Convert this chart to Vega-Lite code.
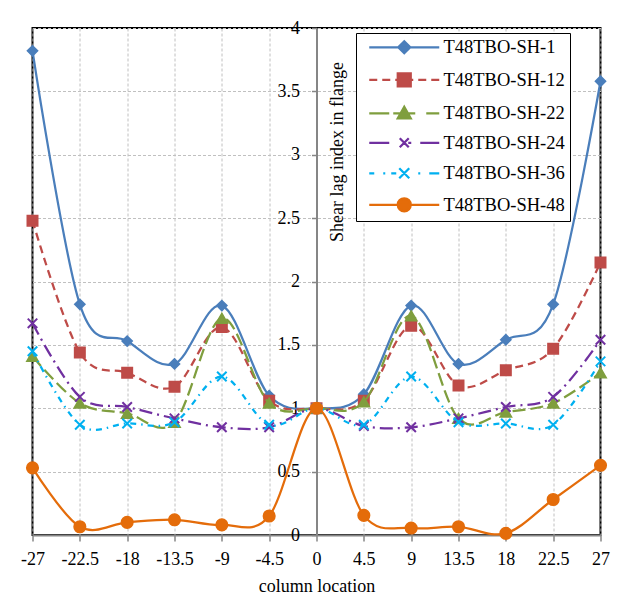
{
  "$schema": "https://vega.github.io/schema/vega-lite/v6.json",
  "width": 568,
  "height": 507,
  "autosize": {"type": "none"},
  "padding": {"left": 32.5, "top": 28, "right": 21.5, "bottom": 81},
  "background": "white",
  "config": {
    "font": "Liberation Serif",
    "view": {"stroke": "black", "strokeWidth": 2}
  },
  "data": {
    "values": [
      {"x": -27, "y": 3.82, "s": "T48TBO-SH-1"}, {"x": -22.5, "y": 1.82, "s": "T48TBO-SH-1"}, {"x": -18, "y": 1.53, "s": "T48TBO-SH-1"}, {"x": -13.5, "y": 1.35, "s": "T48TBO-SH-1"}, {"x": -9, "y": 1.81, "s": "T48TBO-SH-1"}, {"x": -4.5, "y": 1.1, "s": "T48TBO-SH-1"}, {"x": 0, "y": 1.0, "s": "T48TBO-SH-1"}, {"x": 4.5, "y": 1.11, "s": "T48TBO-SH-1"}, {"x": 9, "y": 1.81, "s": "T48TBO-SH-1"}, {"x": 13.5, "y": 1.35, "s": "T48TBO-SH-1"}, {"x": 18, "y": 1.54, "s": "T48TBO-SH-1"}, {"x": 22.5, "y": 1.82, "s": "T48TBO-SH-1"}, {"x": 27, "y": 3.58, "s": "T48TBO-SH-1"},
      {"x": -27, "y": 2.48, "s": "T48TBO-SH-12"}, {"x": -22.5, "y": 1.44, "s": "T48TBO-SH-12"}, {"x": -18, "y": 1.28, "s": "T48TBO-SH-12"}, {"x": -13.5, "y": 1.17, "s": "T48TBO-SH-12"}, {"x": -9, "y": 1.64, "s": "T48TBO-SH-12"}, {"x": -4.5, "y": 1.06, "s": "T48TBO-SH-12"}, {"x": 0, "y": 1.0, "s": "T48TBO-SH-12"}, {"x": 4.5, "y": 1.06, "s": "T48TBO-SH-12"}, {"x": 9, "y": 1.65, "s": "T48TBO-SH-12"}, {"x": 13.5, "y": 1.18, "s": "T48TBO-SH-12"}, {"x": 18, "y": 1.3, "s": "T48TBO-SH-12"}, {"x": 22.5, "y": 1.47, "s": "T48TBO-SH-12"}, {"x": 27, "y": 2.15, "s": "T48TBO-SH-12"},
      {"x": -27, "y": 1.41, "s": "T48TBO-SH-22"}, {"x": -22.5, "y": 1.04, "s": "T48TBO-SH-22"}, {"x": -18, "y": 0.96, "s": "T48TBO-SH-22"}, {"x": -13.5, "y": 0.89, "s": "T48TBO-SH-22"}, {"x": -9, "y": 1.71, "s": "T48TBO-SH-22"}, {"x": -4.5, "y": 1.04, "s": "T48TBO-SH-22"}, {"x": 0, "y": 1.0, "s": "T48TBO-SH-22"}, {"x": 4.5, "y": 1.05, "s": "T48TBO-SH-22"}, {"x": 9, "y": 1.73, "s": "T48TBO-SH-22"}, {"x": 13.5, "y": 0.92, "s": "T48TBO-SH-22"}, {"x": 18, "y": 0.97, "s": "T48TBO-SH-22"}, {"x": 22.5, "y": 1.04, "s": "T48TBO-SH-22"}, {"x": 27, "y": 1.28, "s": "T48TBO-SH-22"},
      {"x": -27, "y": 1.67, "s": "T48TBO-SH-24"}, {"x": -22.5, "y": 1.09, "s": "T48TBO-SH-24"}, {"x": -18, "y": 1.01, "s": "T48TBO-SH-24"}, {"x": -13.5, "y": 0.92, "s": "T48TBO-SH-24"}, {"x": -9, "y": 0.85, "s": "T48TBO-SH-24"}, {"x": -4.5, "y": 0.85, "s": "T48TBO-SH-24"}, {"x": 0, "y": 1.0, "s": "T48TBO-SH-24"}, {"x": 4.5, "y": 0.86, "s": "T48TBO-SH-24"}, {"x": 9, "y": 0.85, "s": "T48TBO-SH-24"}, {"x": 13.5, "y": 0.92, "s": "T48TBO-SH-24"}, {"x": 18, "y": 1.01, "s": "T48TBO-SH-24"}, {"x": 22.5, "y": 1.09, "s": "T48TBO-SH-24"}, {"x": 27, "y": 1.54, "s": "T48TBO-SH-24"},
      {"x": -27, "y": 1.45, "s": "T48TBO-SH-36"}, {"x": -22.5, "y": 0.87, "s": "T48TBO-SH-36"}, {"x": -18, "y": 0.88, "s": "T48TBO-SH-36"}, {"x": -13.5, "y": 0.89, "s": "T48TBO-SH-36"}, {"x": -9, "y": 1.25, "s": "T48TBO-SH-36"}, {"x": -4.5, "y": 0.87, "s": "T48TBO-SH-36"}, {"x": 0, "y": 1.0, "s": "T48TBO-SH-36"}, {"x": 4.5, "y": 0.87, "s": "T48TBO-SH-36"}, {"x": 9, "y": 1.25, "s": "T48TBO-SH-36"}, {"x": 13.5, "y": 0.89, "s": "T48TBO-SH-36"}, {"x": 18, "y": 0.88, "s": "T48TBO-SH-36"}, {"x": 22.5, "y": 0.87, "s": "T48TBO-SH-36"}, {"x": 27, "y": 1.37, "s": "T48TBO-SH-36"},
      {"x": -27, "y": 0.53, "s": "T48TBO-SH-48"}, {"x": -22.5, "y": 0.065, "s": "T48TBO-SH-48"}, {"x": -18, "y": 0.1, "s": "T48TBO-SH-48"}, {"x": -13.5, "y": 0.12, "s": "T48TBO-SH-48"}, {"x": -9, "y": 0.08, "s": "T48TBO-SH-48"}, {"x": -4.5, "y": 0.15, "s": "T48TBO-SH-48"}, {"x": 0, "y": 1.0, "s": "T48TBO-SH-48"}, {"x": 4.5, "y": 0.155, "s": "T48TBO-SH-48"}, {"x": 9, "y": 0.055, "s": "T48TBO-SH-48"}, {"x": 13.5, "y": 0.065, "s": "T48TBO-SH-48"}, {"x": 18, "y": 0.013, "s": "T48TBO-SH-48"}, {"x": 22.5, "y": 0.28, "s": "T48TBO-SH-48"}, {"x": 27, "y": 0.55, "s": "T48TBO-SH-48"}
    ]
  },
  "encoding": {
    "x": {
      "field": "x", "type": "quantitative",
      "scale": {"domain": [-27, 27], "nice": false, "zero": false},
      "axis": {
        "values": [-27, -22.5, -18, -13.5, -9, -4.5, 0, 4.5, 9, 13.5, 18, 22.5, 27],
        "title": "column location",
        "labelExpr": "datum.value + ''",
        "labelFlush": false, "labelOverlap": false,
        "grid": true, "gridColor": "#c0c0c0", "gridDash": [3, 2], "gridWidth": 1,
        "domainColor": "#868686", "domainWidth": 2,
        "tickColor": "#868686", "tickSize": 6, "tickWidth": 1.5,
        "labelPadding": 9, "labelFontSize": 18, "labelColor": "black", "labelFont": "Liberation Serif",
        "titleFontSize": 18, "titleFontWeight": "normal", "titleColor": "black", "titleFont": "Liberation Serif", "titlePadding": 9
      }
    },
    "y": {
      "field": "y", "type": "quantitative",
      "scale": {"domain": [0, 4], "nice": false},
      "axis": {
        "values": [0, 0.5, 1, 1.5, 2, 2.5, 3, 3.5, 4],
        "title": "Shear lag index in flange",
        "offset": -284,
        "labelExpr": "datum.value + ''",
        "labelOverlap": false, "labelFlush": false,
        "grid": true, "gridColor": "#c0c0c0", "gridDash": [3, 2], "gridWidth": 1,
        "domainColor": "#868686", "domainWidth": 2,
        "tickColor": "#868686", "tickSize": 5, "tickWidth": 1.5,
        "labelPadding": 12, "labelFontSize": 18, "labelColor": "black", "labelFont": "Liberation Serif",
        "titleFontSize": 18, "titleFontWeight": "normal", "titleColor": "black", "titleFont": "Liberation Serif",
        "titleX": 21, "titleY": 123.5, "titleBaseline": "middle", "titleAlign": "center", "titleAngle": 270
      }
    },
    "color": {
      "field": "s", "type": "nominal",
      "scale": {
        "domain": ["T48TBO-SH-1", "T48TBO-SH-12", "T48TBO-SH-22", "T48TBO-SH-24", "T48TBO-SH-36", "T48TBO-SH-48"],
        "range": ["#4A7EBB", "#BE4B48", "#7F9E3E", "#7030A0", "#00B0F0", "#E46C0A"]
      },
      "legend": {
        "orient": "none", "legendX": 323.5, "legendY": 5,
        "title": null,
        "labelFontSize": 18.5, "labelFont": "Liberation Serif", "labelColor": "black", "labelLimit": 300,
        "strokeColor": "black", "fillColor": "white", "padding": 5,
        "symbolSize": 4, "symbolOffset": 34, "labelOffset": 30, "rowPadding": 10.5,
        "encode": {
          "symbols": {
            "update": {
              "shape": {"signal": "datum.value === 'T48TBO-SH-1' ? 'M-35,0L35,0M0,-6L6,0L0,6L-6,0Z' : datum.value === 'T48TBO-SH-12' ? 'M-35,0L-27,0M-22,0L-14,0M-9,0L9,0M14,0L22,0M27,0L35,0M-6.5,-6.5L6.5,-6.5L6.5,6.5L-6.5,6.5Z' : datum.value === 'T48TBO-SH-22' ? 'M-35,0L-15,0M-11,0L11,0M22,0L35,0M0,-6.5L6.5,5L-6.5,5Z' : datum.value === 'T48TBO-SH-24' ? 'M-35,0L-15,0M4,0L7,0M16,0L35,0M-4.5,-4.5L4.5,4.5M-4.5,4.5L4.5,-4.5' : datum.value === 'T48TBO-SH-36' ? 'M-35,0L-30,0M-21,0L-19,0M-13,0L-8,0M14,0L16,0M25,0L35,0M-5,-5L5,5M-5,5L5,-5' : 'M-35,0L35,0M-6.5,0A6.5,6.5 0 1,1 6.5,0A6.5,6.5 0 1,1 -6.5,0Z'"},
              "fill": {"scale": "color", "field": "value"},
              "stroke": {"scale": "color", "field": "value"},
              "fillOpacity": {"value": 1},
              "strokeDash": {"value": []},
              "strokeWidth": {"value": 2.25},
              "size": {"value": 4},
              "opacity": {"value": 1}
            }
          }
        }
      }
    }
  },
  "layer": [
    {
      "transform": [{"filter": {"field": "s", "equal": "T48TBO-SH-1"}}],
      "mark": {"type": "line", "interpolate": "cardinal", "strokeWidth": 2.25}
    },
    {
      "transform": [{"filter": {"field": "s", "equal": "T48TBO-SH-1"}}],
      "mark": {"type": "point", "filled": true, "opacity": 1, "shape": "diamond", "size": 105, "stroke": "#4A7EBB", "strokeWidth": 1.5}
    },
    {
      "transform": [{"filter": {"field": "s", "equal": "T48TBO-SH-12"}}],
      "mark": {"type": "line", "interpolate": "cardinal", "strokeWidth": 2.25, "strokeDash": [8, 5]}
    },
    {
      "transform": [{"filter": {"field": "s", "equal": "T48TBO-SH-12"}}],
      "mark": {"type": "point", "filled": true, "opacity": 1, "shape": "square", "size": 110, "stroke": "#BE4B48", "strokeWidth": 1.5}
    },
    {
      "transform": [{"filter": {"field": "s", "equal": "T48TBO-SH-22"}}],
      "mark": {"type": "line", "interpolate": "cardinal", "strokeWidth": 2.25, "strokeDash": [13, 5]}
    },
    {
      "transform": [{"filter": {"field": "s", "equal": "T48TBO-SH-22"}}],
      "mark": {"type": "point", "filled": true, "opacity": 1, "shape": "triangle-up", "size": 130, "stroke": "#7F9E3E", "strokeWidth": 1.5}
    },
    {
      "transform": [{"filter": {"field": "s", "equal": "T48TBO-SH-24"}}],
      "mark": {"type": "line", "interpolate": "cardinal", "strokeWidth": 2.25, "strokeDash": [13, 5, 2, 5]}
    },
    {
      "transform": [{"filter": {"field": "s", "equal": "T48TBO-SH-24"}}],
      "mark": {"type": "point", "filled": true, "opacity": 1, "shape": "M-1,-1L1,1M-1,1L1,-1", "size": 90, "stroke": "#7030A0", "strokeWidth": 2}
    },
    {
      "transform": [{"filter": {"field": "s", "equal": "T48TBO-SH-36"}}],
      "mark": {"type": "line", "interpolate": "cardinal", "strokeWidth": 2.25, "strokeDash": [6, 5, 1.5, 5]}
    },
    {
      "transform": [{"filter": {"field": "s", "equal": "T48TBO-SH-36"}}],
      "mark": {"type": "point", "filled": true, "opacity": 1, "shape": "M-1,-1L1,1M-1,1L1,-1", "size": 90, "stroke": "#00B0F0", "strokeWidth": 2}
    },
    {
      "transform": [{"filter": {"field": "s", "equal": "T48TBO-SH-48"}}],
      "mark": {"type": "line", "interpolate": "cardinal", "strokeWidth": 2.25}
    },
    {
      "transform": [{"filter": {"field": "s", "equal": "T48TBO-SH-48"}}],
      "mark": {"type": "point", "filled": true, "opacity": 1, "shape": "circle", "size": 135, "stroke": "#E46C0A", "strokeWidth": 1.5}
    }
  ]
}
